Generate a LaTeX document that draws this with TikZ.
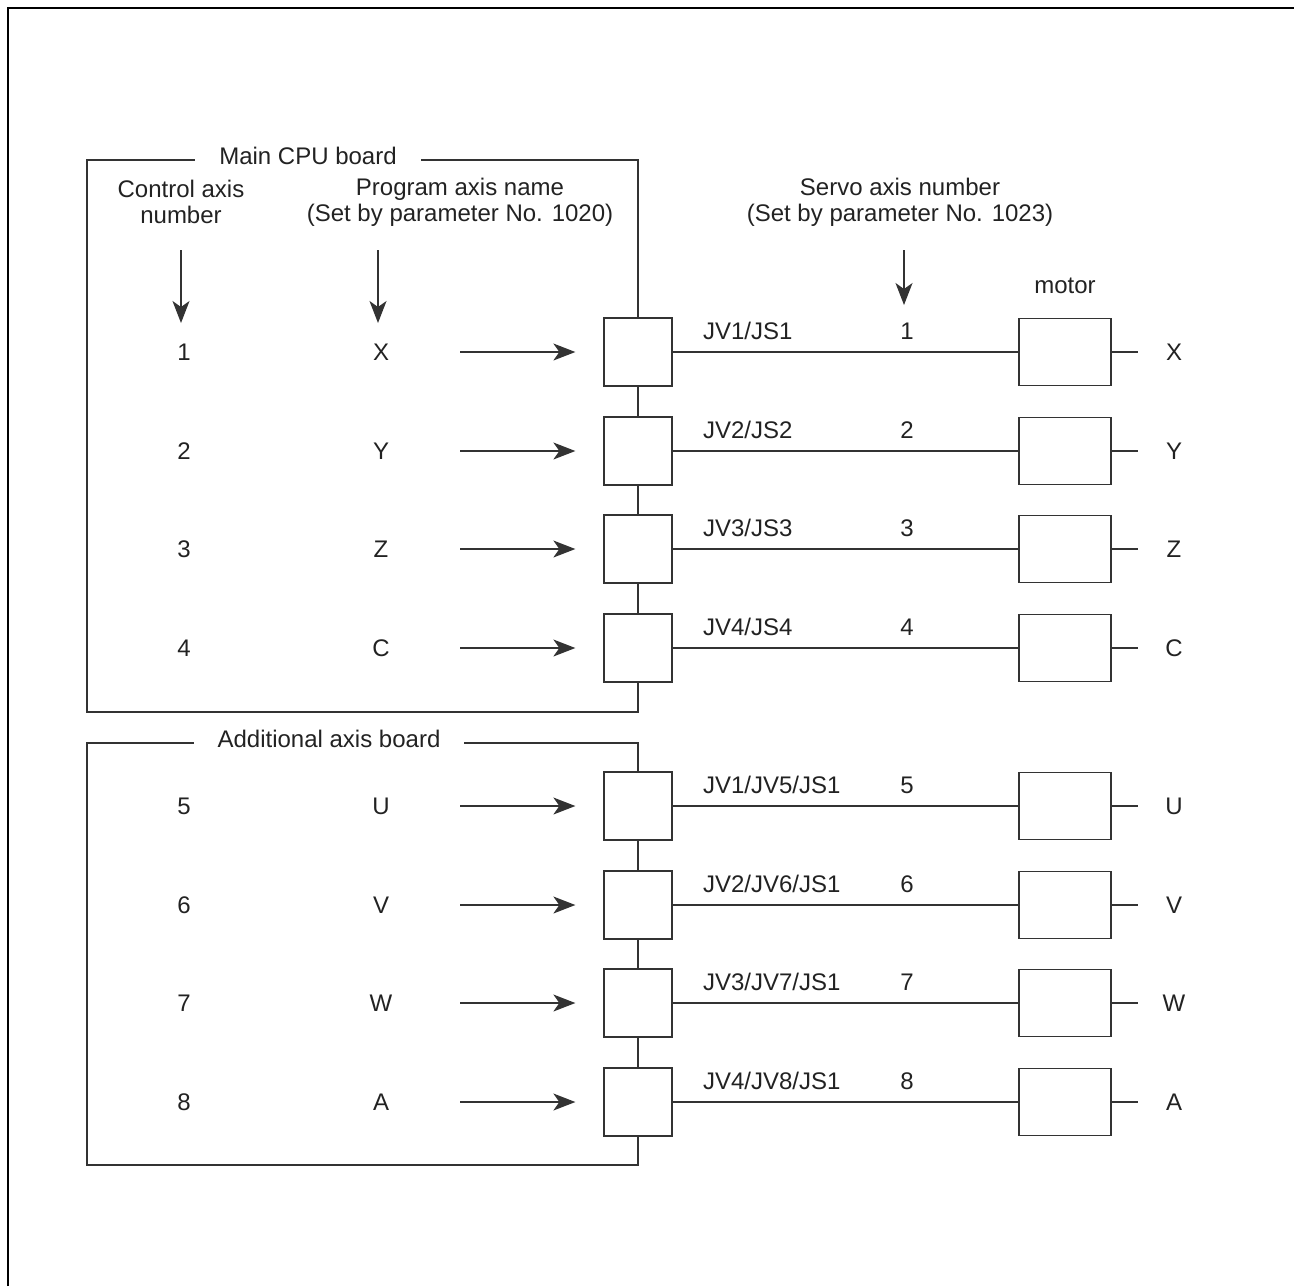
\documentclass[tikz,border=0pt]{standalone}
\usepackage{fontspec}
\setmainfont{Liberation Sans}
\usepackage{xcolor}
\definecolor{axln}{HTML}{333333}
\definecolor{axtx}{HTML}{222222}
\usetikzlibrary{arrows.meta,positioning,calc}

\begin{document}
\begin{tikzpicture}[x=0.5pt,y=-0.5pt,
  every node/.style={font=\fontsize{12}{13}\selectfont,text=axtx},
  wire/.style={draw=axln,line width=0.65pt},
  feed/.style={wire,-{Stealth[length=11pt,width=8.5pt,inset=3pt]}},
  conbox/.style={draw=axln,line width=0.65pt,minimum width=34pt,minimum height=34pt,inner sep=0pt},
  motorbox/.style={draw=axln,line width=0.65pt,minimum width=46pt,minimum height=33.5pt,inner sep=0pt},
  boardtitle/.style={fill=white,inner xsep=12pt,inner ysep=2pt}]
\useasboundingbox (0,0) rectangle (1294,1286);
% outer frame
\draw[line width=1.2pt] (8,1286) -- (8,8) -- (1294,8);
% column headings
\node[align=center] (ctlhead) at (181,202) {Control axis\\number};
\node[align=center] (namhead) at (460,202) {Program axis name\\(Set by parameter No. 1020)};
\node[align=center] (srvhead) at (900,202) {Servo axis number\\(Set by parameter No. 1023)};
\node (mothead) at (1065,286) {motor};
\coordinate (ctltop) at (181,250); \coordinate (ctlbot) at (181,323);
\coordinate (namtop) at (378,250); \coordinate (nambot) at (378,323);
\coordinate (srvtop) at (904,250); \coordinate (srvbot) at (904,305);
\draw[feed] (ctltop) -- (ctlbot);
\draw[feed] (namtop) -- (nambot);
\draw[feed] (srvtop) -- (srvbot);
% axis rows
\foreach \i/\ax/\yy/\con in {1/X/352/JV1\slash JS1,2/Y/451/JV2\slash JS2,3/Z/549/JV3\slash JS3,4/C/648/JV4\slash JS4,
    5/U/806/JV1\slash JV5\slash JS1,6/V/905/JV2\slash JV6\slash JS1,7/W/1003/JV3\slash JV7\slash JS1,8/A/1102/JV4\slash JV8\slash JS1}{
  \node (num\i) at (184,\yy) {\i};
  \node (nam\i) at (381,\yy) {\ax};
  \coordinate (src\i) at (460,\yy);
  \node[conbox] (con\i) at (638,\yy) {};
  \node[motorbox] (mot\i) at (1065,\yy) {};
  \coordinate (end\i) at (1138,\yy);
  \node (out\i) at (1174,\yy) {\ax};
  \node[anchor=west] (jv\i) at (696,\yy-21) {\con};
  \node (srv\i) at (907,\yy-21) {\i};
  \draw[feed,shorten >=14pt] (src\i) -- (con\i.west);
  \draw[wire] (con\i) -- (mot\i);
  \draw[wire] (mot\i) -- (end\i);
}
% main CPU board
\draw[wire] (con1.north) -- (638,160) -- (87,160) -- (87,712) -- (638,712) -- (con4.south);
\foreach \a/\b in {1/2,2/3,3/4,5/6,6/7,7/8}
  \draw[wire] (con\a.south) -- (con\b.north);
\node[boardtitle] (maintitle) at (308,156) {Main CPU board};
% additional axis board
\draw[wire] (con5.north) -- (638,743) -- (87,743) -- (87,1165) -- (638,1165) -- (con8.south);
\node[boardtitle] (addtitle) at (329,739) {Additional axis board};
\end{tikzpicture}
\end{document}
